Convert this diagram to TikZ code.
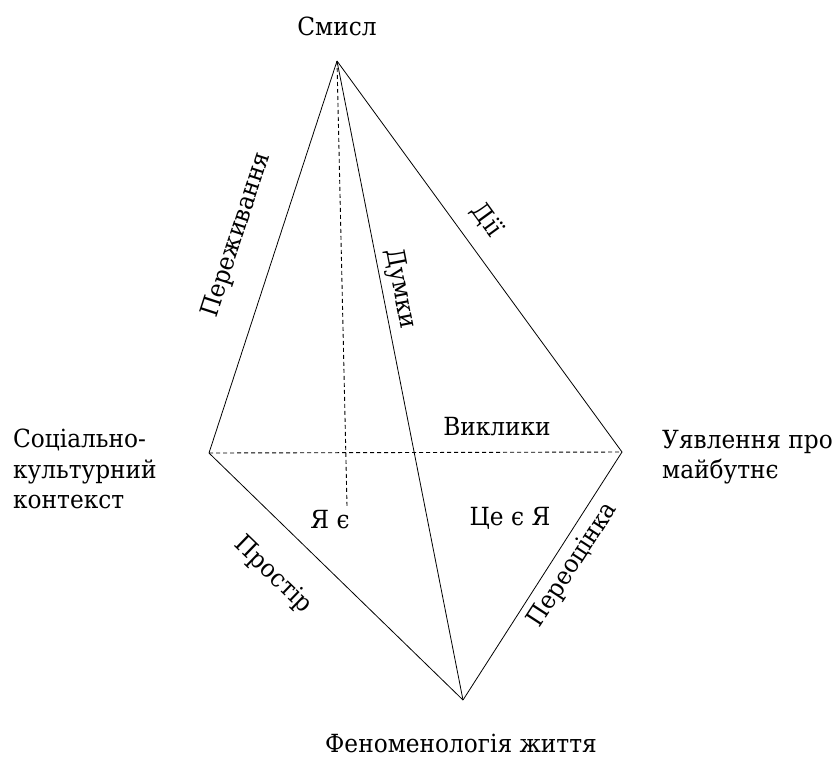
\documentclass[tikz,border=0pt]{standalone}
\usepackage{fontspec}
\setmainfont{DejaVu Serif}
\newfontfamily\serfont[FakeStretch=0.93]{DejaVu Serif}
\begin{document}
\begin{tikzpicture}[x=1pt,y=-1pt,
  edge/.style={line width=0.8pt},
  hidden/.style={line width=0.9pt, dash pattern=on 4pt off 3pt},
  lbl/.style={inner sep=0pt, font=\serfont\fontsize{25}{30.5}\selectfont},
]
\useasboundingbox (0,0) rectangle (834,756);
\coordinate (A) at (337,61);
\coordinate (L) at (209,453);
\coordinate (R) at (622,452);
\coordinate (B) at (463,700);
\coordinate (D) at (347,506);
\draw[edge] (A) -- (L);
\draw[edge] (A) -- (R);
\draw[edge] (A) -- (B);
\draw[edge] (L) -- (B);
\draw[edge] (R) -- (B);
\draw[hidden] (L) -- (R);
\draw[hidden] (A) -- (D);
\node[lbl, anchor=base] (smysl) at (337,35) {Смисл};
\node[lbl, align=left, anchor=west] (soc) at (13,469) {Соціально-\\культурний\\контекст};
\node[lbl, align=left, anchor=west] (uyav) at (662,457) {Уявлення про\\майбутнє};
\node[lbl, anchor=base] (fenom) at (461,752) {Феноменологія життя};
\node[lbl, anchor=base] (vykl) at (497,435) {Виклики};
\node[lbl, anchor=base] (yae) at (330,528) {Я є};
\node[lbl, anchor=base] (tse) at (510,525) {Це є Я};
\node[lbl, rotate=72] (perezh) at (237,235) {Переживання};
\node[lbl, rotate=-79] (dumky) at (400,289) {Думки};
\node[lbl, rotate=-54] (dii) at (487,220) {Дії};
\node[lbl, rotate=-44] (prostir) at (273,575) {Простір};
\node[lbl, rotate=57] (pereoc) at (573,565) {Переоцінка};
\end{tikzpicture}
\end{document}
